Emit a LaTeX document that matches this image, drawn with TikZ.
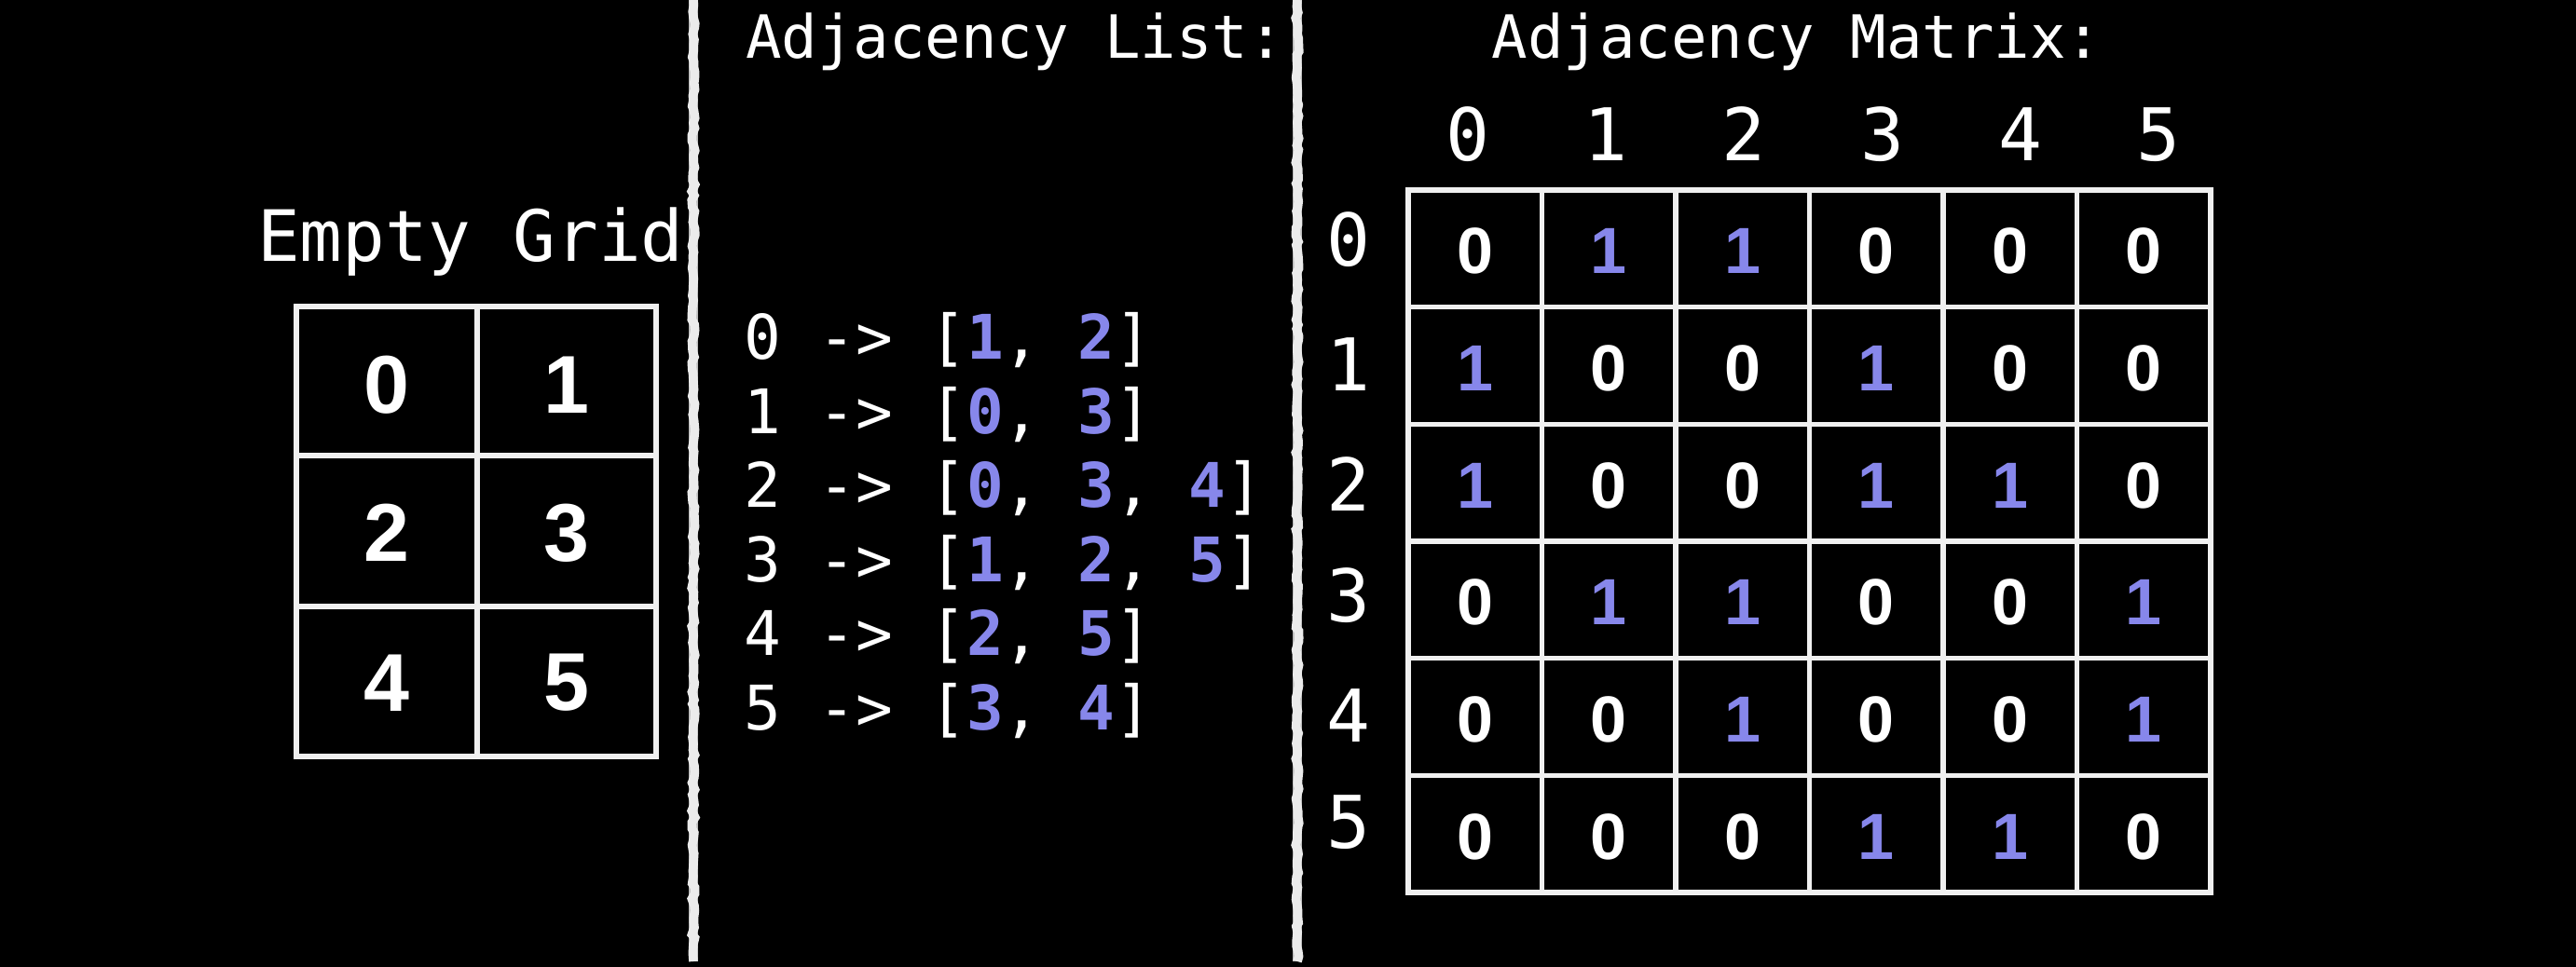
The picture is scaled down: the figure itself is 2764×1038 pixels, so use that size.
\documentclass[tikz,border=0pt]{standalone}
\usepackage{fontspec}
\setmainfont{Liberation Sans}
\newfontfamily\adjmono{DejaVu Sans Mono}
\usetikzlibrary{decorations.pathmorphing}
\definecolor{adjblue}{RGB}{135,135,235}
\definecolor{chalkwhite}{RGB}{235,235,235}
\definecolor{linewhite}{RGB}{240,240,240}
\newcommand\adjnum[1]{{\bfseries\color{adjblue}#1}}
\tikzset{
  titletext/.style={text=white, inner sep=0pt, font=\adjmono\fontsize{16}{18}\selectfont},
  gridtitle/.style={text=white, inner sep=0pt, font=\adjmono\fontsize{19}{22}\selectfont},
  listline/.style={text=white, inner sep=0pt, anchor=base west, font=\adjmono\fontsize{16.5}{19}\selectfont},
  headtext/.style={text=white, inner sep=0pt, font=\adjmono\fontsize{19.5}{22}\selectfont},
  griddigit/.style={text=white, inner sep=0pt, font=\bfseries\fontsize{22}{24}\selectfont},
  celldigit/.style={inner sep=0pt, font=\bfseries\fontsize{17.5}{20}\selectfont},
  gridline/.style={draw=linewhite, line width=1.3pt},
  chalkbase/.style={draw=chalkwhite!80!black, line width=2.6pt},
  chalk/.style={draw=chalkwhite, line width=2.4pt, decorate,
    decoration={random steps, segment length=1.5pt, amplitude=0.45pt}}
}
\begin{document}
\begin{tikzpicture}[x=0.25pt,y=-0.25pt]
\pgfmathsetseed{7}
\fill[black] (0,0) rectangle (2764,1038);
\useasboundingbox (0,0) rectangle (2764,1038);

% chalk dividers
\draw[chalkbase] (744,0) -- (744,1032);
\draw[chalk] (744,0) -- (744,1032);
\draw[chalkbase] (1392,0) -- (1392,1032);
\draw[chalk] (1392,0) -- (1392,1032);

% ---------- Empty grid ----------
\node[gridtitle, anchor=base] (egtitle) at (505,281) {Empty Grid};
\draw[gridline] (318,329) rectangle (704,812);
\draw[gridline] (512,329) -- (512,812);
\draw[gridline] (318,489) -- (704,489);
\draw[gridline] (318,651) -- (704,651);
\node[griddigit] (g0) at (415,413) {0};
\node[griddigit] (g1) at (608,413) {1};
\node[griddigit] (g2) at (415,572) {2};
\node[griddigit] (g3) at (608,572) {3};
\node[griddigit] (g4) at (415,733) {4};
\node[griddigit] (g5) at (608,733) {5};

% ---------- Adjacency list ----------
\node[titletext, anchor=base] (altitle) at (1089,63) {Adjacency List:};
\node[listline] (l0) at (798,385) {0 -> [\adjnum{1}, \adjnum{2}]};
\node[listline] (l1) at (798,465) {1 -> [\adjnum{0}, \adjnum{3}]};
\node[listline] (l2) at (798,544) {2 -> [\adjnum{0}, \adjnum{3}, \adjnum{4}]};
\node[listline] (l3) at (798,624) {3 -> [\adjnum{1}, \adjnum{2}, \adjnum{5}]};
\node[listline] (l4) at (798,703) {4 -> [\adjnum{2}, \adjnum{5}]};
\node[listline] (l5) at (798,783) {5 -> [\adjnum{3}, \adjnum{4}]};

% ---------- Adjacency matrix ----------
\node[titletext, anchor=base] (amtitle) at (1928,63) {Adjacency Matrix:};
\foreach \i in {0,...,5}{
  \node[headtext, anchor=base] (ch\i) at ({1575+148.2*\i},173) {\i};
}
\foreach \i/\yy in {0/257,1/391,2/520,3/639,4/768,5/883}{
  \node[headtext] (rh\i) at (1447,\yy) {\i};
}
\draw[gridline] (1511,204) rectangle (2372,958);
\foreach \c in {1,...,5}{
  \draw[gridline] ({1511+143.5*\c},204) -- ({1511+143.5*\c},958);
}
\foreach \r in {1,...,5}{
  \draw[gridline] (1511,{204+125.67*\r}) -- (2372,{204+125.67*\r});
}
\foreach \r/\row in {0/{0,1,1,0,0,0},1/{1,0,0,1,0,0},2/{1,0,0,1,1,0},3/{0,1,1,0,0,1},4/{0,0,1,0,0,1},5/{0,0,0,1,1,0}}{
  \foreach \v [count=\c from 0] in \row {
    \def\cellcol{white}
    \ifnum\v=1 \def\cellcol{adjblue}\fi
    \node[celldigit, text=\cellcol] (m-\r-\c) at ({1511+143.5*(\c+0.5)},{204+125.67*(\r+0.5)+3}) {\v};
  }
}
\end{tikzpicture}
\end{document}
